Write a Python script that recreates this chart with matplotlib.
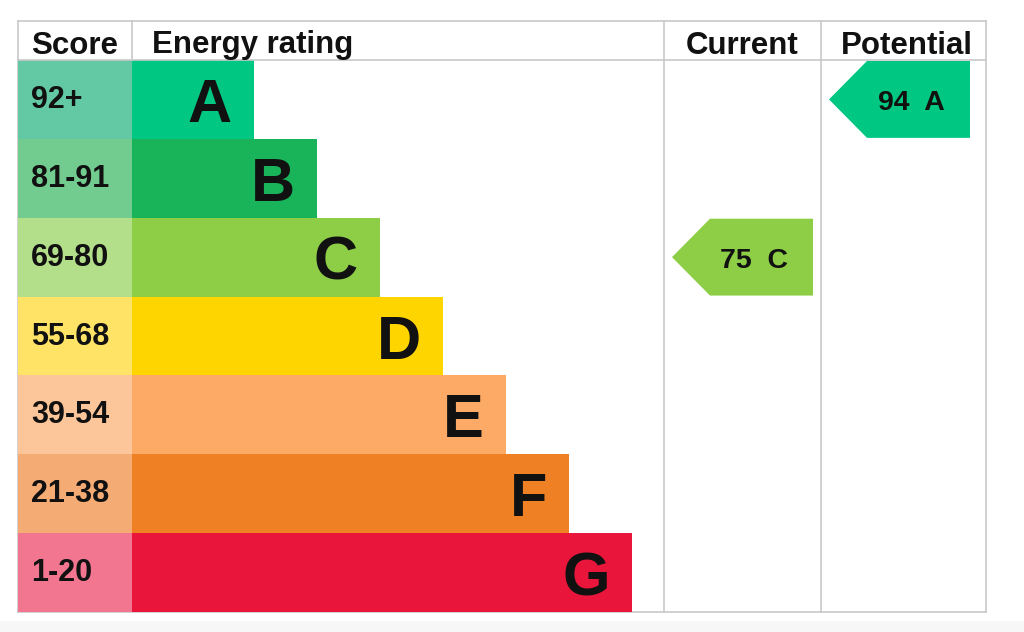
import matplotlib
matplotlib.use("Agg")
import matplotlib.pyplot as plt
from matplotlib.patches import Polygon, Rectangle

# ---- data ----
bands = ["A", "B", "C", "D", "E", "F", "G"]
score_ranges = ["92+", "81-91", "69-80", "55-68", "39-54", "21-38", "1-20"]
band_mins = [92, 81, 69, 55, 39, 21, 1]
bar_colors = ["#00c781", "#19b459", "#8dce46", "#ffd500", "#fcaa65", "#ef8023", "#e9153b"]
score_colors = ["#63c8a4", "#72cb8f", "#b3df8a", "#ffe366", "#fdc69a", "#f4ab74", "#f27690"]
headers = ["Score", "Energy rating", "Current", "Potential"]
current_value = 75
potential_value = 94

# ---- layout (pixels) ----
W, H = 1024, 632
L, R, TOP, HDR, BOT = 18, 986, 21, 60, 612
SCORE_R = 132
CUR_L, POT_L = 664, 821
row_h = (BOT - HDR) / len(bands)
FONT = "Liberation Sans"
TXT = "#111111"

fig = plt.figure(figsize=(W / 100, H / 100), dpi=100)
ax = fig.add_axes([0, 0, 1, 1])
ax.set_xlim(0, W)
ax.set_ylim(H, 0)
ax.axis("off")

# light strip at bottom
ax.add_patch(Rectangle((0, 621), W, H - 621, color="#f7f7f7", lw=0, zorder=0))

centers = [HDR + row_h * (i + 0.5) for i in range(len(bands))]
tops = [HDR + row_h * i for i in range(len(bands))]
lengths = [122 + 63 * i for i in range(len(bands))]

# score column
ax.barh(centers, [SCORE_R - L] * len(bands), left=L, height=row_h,
        color=score_colors, linewidth=0, zorder=1)
# rating bars
ax.barh(centers, lengths, left=SCORE_R, height=row_h,
        color=bar_colors, linewidth=0, zorder=1)

for i, (b, s) in enumerate(zip(bands, score_ranges)):
    ax.text(L + 13, tops[i] + 48, s, ha="left", va="baseline", fontsize=22,
            fontweight="bold", family=FONT, color=TXT, zorder=3)
    ax.text(SCORE_R + lengths[i] - 22, tops[i] + 62, b, ha="right", va="baseline",
            fontsize=44, fontweight="bold", family=FONT, color=TXT, zorder=3)

# grid lines
gc = "#c8c8c8"
ax.plot([L, R], [TOP, TOP], color=gc, lw=1.2, zorder=2)
ax.plot([L, R], [HDR, HDR], color=gc, lw=1.2, zorder=2)
ax.plot([L, R], [BOT, BOT], color=gc, lw=1.2, zorder=0.5)
ax.plot([L, L], [TOP, BOT], color=gc, lw=1.2, zorder=0.5)
ax.plot([R, R], [TOP, BOT], color=gc, lw=1.2, zorder=2)
ax.plot([SCORE_R, SCORE_R], [TOP, HDR], color=gc, lw=1.2, zorder=2)
ax.plot([CUR_L, CUR_L], [TOP, BOT], color=gc, lw=1.2, zorder=2)
ax.plot([POT_L, POT_L], [TOP, BOT], color=gc, lw=1.2, zorder=2)

# headers
hy = 53.5
hkw = dict(va="baseline", fontsize=22.5, fontweight="bold", family=FONT, color=TXT)
ax.text(L + 13, hy, headers[0], ha="left", **hkw)
ax.text(SCORE_R + 20, hy, headers[1], ha="left", **hkw)
ax.text((CUR_L + POT_L) / 2, hy, headers[2], ha="center", **hkw)
ax.text((POT_L + R) / 2 + 3, hy, headers[3], ha="center", **hkw)


def band_index(v):
    for i, m in enumerate(band_mins):
        if v >= m:
            return i
    return len(band_mins) - 1


def arrow(value, col_left, col_right):
    i = band_index(value)
    top = tops[i] + 1
    bot = tops[i] + row_h - 1
    mid = (top + bot) / 2
    tip = col_left + 8
    body = tip + 38
    right = col_right - 16
    poly = Polygon([(tip, mid), (body, top), (right, top), (right, bot), (body, bot)],
                   closed=True, color=bar_colors[i], lw=0, zorder=2)
    ax.add_patch(poly)
    ax.text((body + right) / 2 - 7, tops[i] + 50, f"{value}  {bands[i]}", ha="center",
            va="baseline", fontsize=20.5, fontweight="bold", family=FONT,
            color=TXT, zorder=3)


arrow(current_value, CUR_L, POT_L + 8)
arrow(potential_value, POT_L, R)

fig.savefig("out.png", dpi=100)
